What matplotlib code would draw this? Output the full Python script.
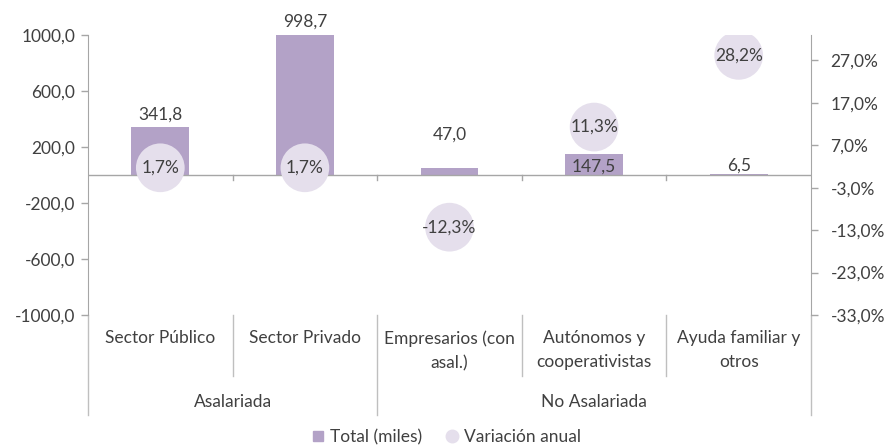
import matplotlib
matplotlib.use('Agg')
import matplotlib.pyplot as plt
import matplotlib.transforms as mtransforms
import numpy as np

plt.rcParams['font.family'] = ['Lato', 'DejaVu Sans']

# Data
categories = ['Sector Público', 'Sector Privado', 'Empresarios (con\nasal.)',
              'Autónomos y\ncooperativistas', 'Ayuda familiar y\notros']
groups = ['Asalariada', 'No Asalariada']
group_bounds = [(0, 2), (2, 5)]
total_miles = [341.8, 998.7, 47.0, 147.5, 6.5]
variacion = [1.7, 1.7, -12.3, 11.3, 28.2]
left_ticks = [-1000, -600, -200, 200, 600, 1000]
right_ticks = [-33, -23, -13, -3, 7, 17, 27]

# label offsets (points) for the bar values, as placed in the original
bar_label_offsets = [9, 10, 24, -9, 6]

BAR_COLOR = '#b3a2c7'
BUBBLE_COLOR = '#e5dfec'
AXIS_COLOR = '#a6a6a6'
TEXT_COLOR = '#404040'
FS = 12.5

W, H = 886, 447
fig = plt.figure(figsize=(W / 100, H / 100), dpi=100)
x0, x1, ytop, ybot = 88, 811, 35, 315
ax = fig.add_axes([x0 / W, 1 - ybot / H, (x1 - x0) / W, (ybot - ytop) / H])
ax2 = ax.twinx()

x = np.arange(len(categories))
bars = ax.bar(x, total_miles, width=0.4, color=BAR_COLOR, zorder=2)
ax.set_xlim(-0.5, len(categories) - 0.5)
ax.set_ylim(-1000, 1000)
ax.set_yticks(left_ticks)
ax.set_yticklabels([f'{v:.1f}'.replace('.', ',') for v in left_ticks])

ax2.set_ylim(-33, 33)
ax2.set_yticks(right_ticks)
ax2.set_yticklabels([f'{v:.1f}%'.replace('.', ',') for v in right_ticks])

for a in (ax, ax2):
    for s in ('top', 'bottom'):
        a.spines[s].set_visible(False)
    a.tick_params(axis='y', colors=AXIS_COLOR, labelcolor=TEXT_COLOR,
                  labelsize=FS, length=5, width=1)
    a.set_xticks([])
ax.spines['right'].set_visible(False)
ax2.spines['left'].set_visible(False)
ax.spines['left'].set_color(AXIS_COLOR)
ax2.spines['right'].set_color(AXIS_COLOR)
ax.tick_params(axis='y', pad=4)
ax2.tick_params(axis='y', pad=9)

# zero line with category ticks
ax.axhline(0, color=AXIS_COLOR, lw=1, zorder=3)
trans = mtransforms.blended_transform_factory(ax.transData, ax.transAxes)
for b in np.arange(0.5, len(categories) - 1, 1.0):
    ax.plot([b, b], [0.5, 0.5 - 5 / 280], color=AXIS_COLOR, lw=1,
            transform=trans, clip_on=False)

# separators in category area
inner_bottom = -(376 - 315) / 280
outer_bottom = -(415 - 315) / 280
group_edges = sorted(set([g[0] for g in group_bounds] + [g[1] for g in group_bounds]))
for b in np.arange(0, len(categories) + 1):
    xb = b - 0.5
    yb = outer_bottom if b in group_edges else inner_bottom
    ax.plot([xb, xb], [0, yb], color='#bfbfbf', lw=1,
            transform=trans, clip_on=False)

# category and group labels
for xi, cat in zip(x, categories):
    ax.text(xi, -(330 - 315) / 280, cat, transform=trans, ha='center', va='top',
            fontsize=FS, color=TEXT_COLOR, linespacing=1.65)
for name, (g0, g1) in zip(groups, group_bounds):
    ax.text((g0 + g1 - 1) / 2, -(402 - 315) / 280, name, transform=trans,
            ha='center', va='center', fontsize=FS, color=TEXT_COLOR)

# bar value labels
for xi, v, off in zip(x, total_miles, bar_label_offsets):
    ax.annotate(f'{v:.1f}'.replace('.', ','), (xi, v), xytext=(0, off),
                textcoords='offset points', ha='center', va='center',
                fontsize=FS, color=TEXT_COLOR, zorder=6)

# bubbles for variation
ax2.scatter(x, variacion, s=1230, color=BUBBLE_COLOR, edgecolors='none', zorder=4)
for xi, v in zip(x, variacion):
    ax2.text(xi, v, f'{v:.1f}%'.replace('.', ','), ha='center', va='center',
             fontsize=FS, color=TEXT_COLOR, zorder=5)

# legend
h1 = plt.Line2D([], [], marker='s', ls='none', color=BAR_COLOR, markersize=7)
h2 = plt.Line2D([], [], marker='o', ls='none', color=BUBBLE_COLOR, markersize=9)
fig.legend([h1, h2], ['Total (miles)', 'Variación anual'], loc='center',
           bbox_to_anchor=(445 / W, 1 - 437 / H), ncol=2, frameon=False,
           fontsize=FS, labelcolor=TEXT_COLOR, handletextpad=0.2,
           columnspacing=1.2, handlelength=1)

fig.savefig('out.png', dpi=100)
